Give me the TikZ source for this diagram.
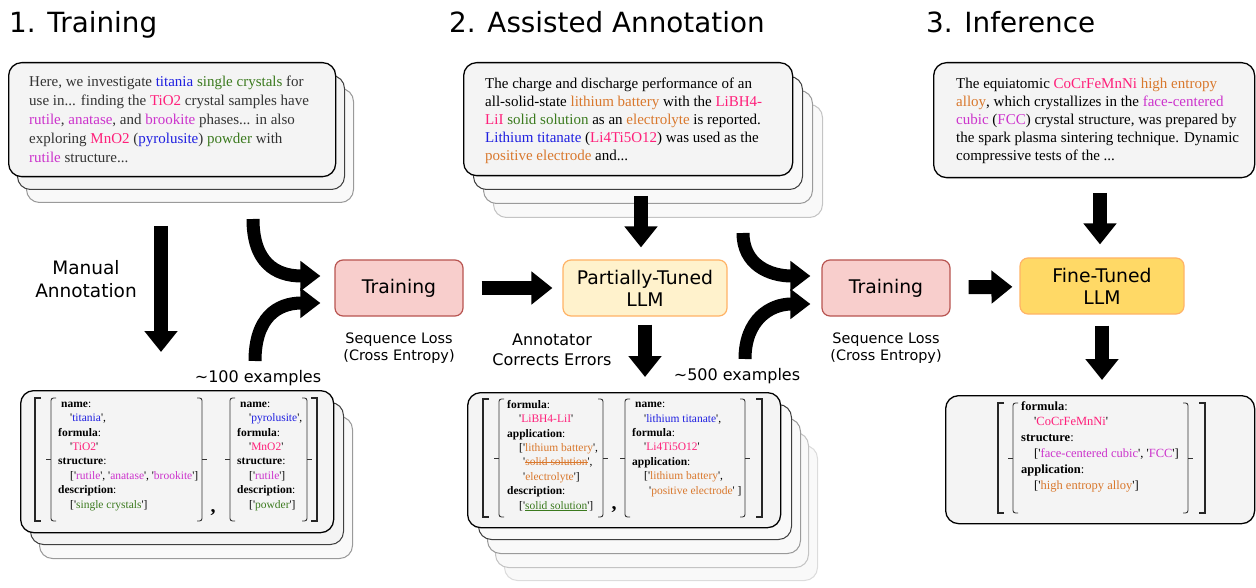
\documentclass[tikz,border=0pt]{standalone}
\usepackage{fontspec}
\setmainfont{DejaVu Sans}
\newfontfamily\srcfont{Liberation Serif}
\newfontfamily\jsonfont[Ligatures=TeXOff]{Liberation Serif}
\usetikzlibrary{arrows.meta, positioning}

\definecolor{cname}{HTML}{1F1FE0}
\definecolor{cdesc}{HTML}{3B7A1E}
\definecolor{cform}{HTML}{FF1F7A}
\definecolor{cphase}{HTML}{CC33CC}
\definecolor{capp}{HTML}{D9782D}
\definecolor{cardgray}{HTML}{F4F4F4}
\definecolor{backgray}{HTML}{F9F9F9}
\definecolor{lay2}{HTML}{404040}
\definecolor{lay3}{HTML}{9A9A9A}
\definecolor{lay4}{HTML}{C4C4C4}
\definecolor{lay5}{HTML}{DCDCDC}
\definecolor{trainfill}{HTML}{F8CECC}
\definecolor{traindraw}{HTML}{B85450}
\definecolor{ptfill}{HTML}{FFF2CC}
\definecolor{ftfill}{HTML}{FFD966}
\definecolor{llmdraw}{HTML}{FFB366}

\newcommand{\tname}[1]{\textcolor{cname}{#1}}
\newcommand{\tdesc}[1]{\textcolor{cdesc}{#1}}
\newcommand{\tform}[1]{\textcolor{cform}{#1}}
\newcommand{\tphase}[1]{\textcolor{cphase}{#1}}
\newcommand{\tappl}[1]{\textcolor{capp}{#1}}
\newsavebox\wordbox
\newcommand{\strk}[1]{\sbox\wordbox{#1}\rlap{\usebox\wordbox}\rule[0.27em]{\wd\wordbox}{0.07em}}
\newcommand{\undl}[1]{\sbox\wordbox{#1}\rlap{\usebox\wordbox}\rule[-0.17em]{\wd\wordbox}{0.06em}}

\newcommand{\jsqr}[4]{%
  \draw[line width=1.5pt, black!85] ({#1+6},#3) -- (#1,#3) -- (#1,#4) -- ({#1+6},#4);
  \draw[line width=1.5pt, black!85] ({#2-6},#3) -- (#2,#3) -- (#2,#4) -- ({#2-6},#4);}
\newcommand{\jcurl}[4]{%
  \draw[line width=0.9pt, black!80, rounded corners=2.5pt] ({#1+5},#3) -- (#1,#3) -- (#1,#4) -- ({#1+5},#4);
  \draw[line width=0.9pt, black!80] (#1,{(#3+#4)/2}) -- ({#1-5},{(#3+#4)/2});
  \draw[line width=0.9pt, black!80, rounded corners=2.5pt] ({#2-5},#3) -- (#2,#3) -- (#2,#4) -- ({#2-5},#4);
  \draw[line width=0.9pt, black!80] (#2,{(#3+#4)/2}) -- ({#2+5},{(#3+#4)/2});}

\begin{document}
\begin{tikzpicture}[x=1pt, y=-1pt,
  card/.style={draw=black, fill=cardgray, rounded corners=13pt, line width=1.3pt, inner sep=0pt, anchor=north west},
  back/.style={card, fill=backgray, line width=1pt},
  src/.style={font=\srcfont\fontsize{15}{18.2}\selectfont, align=left, inner sep=0pt, anchor=base west},
  json/.style={font=\jsonfont\fontsize{11.5}{14.4}\selectfont, align=left, inner sep=0pt, anchor=base west},
  jcomma/.style={font=\jsonfont\bfseries\fontsize{20}{20}\selectfont, inner sep=0pt, anchor=base},
  head/.style={font=\fontsize{27.8}{30}\selectfont, inner sep=0pt, anchor=base west},
  lbl/.style={font=\fontsize{14.4}{17.5}\selectfont, align=center, inner sep=0pt},
  lblmid/.style={font=\fontsize{16}{20}\selectfont, align=center, inner sep=0pt},
  stage/.style={rounded corners=8pt, line width=1.2pt, font=\fontsize{18.8}{22}\selectfont, align=center, minimum height=56pt},
  trainbox/.style={stage, draw=traindraw, fill=trainfill, minimum width=128pt},
  llmbox/.style={stage, draw=llmdraw, minimum width=164pt},
  fat/.style={line width=14pt, -{Triangle[width=32pt,length=21pt]}},
  fatc/.style={line width=13pt, -{Triangle[width=29pt,length=20pt]}}]

\useasboundingbox (0,0) rectangle (1256,588);

\node[head] (h1) at (9,33) {1. Training};
\node[head] (h2) at (449,33) {2. Assisted Annotation};
\node[head] (h3) at (926,33) {3. Inference};

\node[back, draw=lay3, minimum width=327pt, minimum height=114pt] (top1s2) at (26,88) {};
\node[back, draw=lay2, fill=cardgray, minimum width=327pt, minimum height=114pt] (top1s1) at (17,75) {};
\node[card, minimum width=327pt, minimum height=114pt] (top1) at (8,62) {};
\node[src, text=black!80, font=\srcfont\fontsize{15}{19}\selectfont] (top1txt) at (29,163) {Here, we investigate \tname{titania} \tdesc{single crystals} for\\
use in... finding the \tform{TiO2} crystal samples have\\
\tphase{rutile}, \tphase{anatase}, and \tphase{brookite} phases... in also\\
exploring \tform{MnO2} (\tname{pyrolusite}) \tdesc{powder} with\\
\tphase{rutile} structure...};

\foreach \dx/\dy/\c in {30/42/lay4,20/28/lay3,10/14/lay2}
  \node[back, draw=\c, minimum width=329pt, minimum height=113pt] (top2s\dx) at (463+\dx,62+\dy) {};
\node[card, minimum width=329pt, minimum height=113pt] (top2) at (463,62) {};
\node[src] (top2txt) at (485,161) {The charge and discharge performance of an\\
all-solid-state \tappl{lithium battery} with the \tform{LiBH4-}\\
\tform{LiI} \tdesc{solid solution} as an \tappl{electrolyte} is reported.\\
\tname{Lithium titanate} (\tform{Li4Ti5O12}) was used as the\\
\tappl{positive electrode} and...};

\node[card, minimum width=321pt, minimum height=115pt] (top3) at (933,62) {};
\node[src] (top3txt) at (956,161) {The equiatomic \tform{CoCrFeMnNi} \tappl{high entropy}\\
\tappl{alloy}, which crystallizes in the \tphase{face-centered}\\
\tphase{cubic} (\tphase{FCC}) crystal structure, was prepared by\\
the spark plasma sintering technique. Dynamic\\
compressive tests of the ...};

\node[trainbox] (train1) at (399,288) {Training};
\node[llmbox, fill=ptfill] (pt) at (645,288) {Partially-Tuned\\LLM};
\node[trainbox] (train2) at (886,288) {Training};
\node[llmbox, fill=ftfill] (ft) at (1102,286) {Fine-Tuned\\LLM};

\node[lbl, below=16pt of train1] (loss1) {Sequence Loss\\(Cross Entropy)};
\node[lbl, below=16pt of train2] (loss2) {Sequence Loss\\(Cross Entropy)};
\node[font=\fontsize{18.5}{23}\selectfont, align=center, inner sep=0pt] (manual) at (86,279) {Manual\\Annotation};
\node[lblmid] (fix) at (552,350) {Annotator\\Corrects Errors};
\node[lblmid] (ex100) at (258,378) {\textasciitilde100 examples};
\node[lblmid] (ex500) at (737,376) {\textasciitilde500 examples};

\node[back, draw=lay3, minimum width=313pt, minimum height=142pt] (bot1s2) at (39,416) {};
\node[back, draw=lay2, fill=cardgray, minimum width=313pt, minimum height=142pt] (bot1s1) at (30,402) {};
\node[card, minimum width=313pt, minimum height=142pt] (bot1) at (20,390) {};
\jsqr{35}{317}{398}{521}
\jcurl{51}{202}{398}{521}
\jcurl{230}{307}{398}{521}
\node[json] (bot1a) at (58,508) {\hspace*{3pt}\textbf{name}:\\
\hspace*{12pt}'\tname{titania}',\\
\textbf{formula}:\\
\hspace*{12pt}'\tform{TiO2}'\\
\textbf{structure}:\\
\hspace*{12pt}['\tphase{rutile}', '\tphase{anatase}', '\tphase{brookite}']\\
\textbf{description}:\\
\hspace*{12pt}['\tdesc{single crystals}']};
\node[jcomma] (bot1cm) at (213,512) {,};
\node[json] (bot1b) at (237,508) {\hspace*{3pt}\textbf{name}:\\
\hspace*{12pt}'\tname{pyrolusite}',\\
\textbf{formula}:\\
\hspace*{12pt}'\tform{MnO2}'\\
\textbf{structure}:\\
\hspace*{12pt}['\tphase{rutile}']\\
\textbf{description}:\\
\hspace*{12pt}['\tdesc{powder}']};

\foreach \dx/\dy/\c in {37/53/lay5,28/40/lay4,20/26/lay3,11/12/lay2}
  \node[back, draw=\c, minimum width=313pt, minimum height=135pt] (bot2s\dx) at (467+\dx,392+\dy) {};
\node[card, minimum width=313pt, minimum height=135pt] (bot2) at (467,392) {};
\jsqr{483}{762}{399}{517}
\jcurl{499}{603}{399}{517}
\jcurl{625}{745}{399}{517}
\node[json] (bot2a) at (507,509) {\textbf{formula}:\\
\hspace*{12pt}'\tform{LiBH4-LiI}'\\
\textbf{application}:\\
\hspace*{12pt}['\tappl{lithium battery}',\\
\hspace*{16pt}'\tappl{\strk{solid solution}}',\\
\hspace*{16pt}'\tappl{electrolyte}']\\
\textbf{description}:\\
\hspace*{12pt}['\tdesc{\undl{solid solution}}']};
\node[jcomma] (bot2cm) at (614,509) {,};
\node[json] (bot2b) at (632,494) {\hspace*{3pt}\textbf{name}:\\
\hspace*{12pt}'\tname{lithium titanate}',\\
\textbf{formula}:\\
\hspace*{12pt}'\tform{Li4Ti5O12}'\\
\textbf{application}:\\
\hspace*{12pt}['\tappl{lithium battery}',\\
\hspace*{17pt}'\tappl{positive electrode}' ]};

\node[card, minimum width=309pt, minimum height=128pt] (bot3) at (945,395) {};
\jsqr{998}{1205}{403}{513}
\jcurl{1013}{1188}{403}{513}
\node[json, font=\jsonfont\fontsize{12.5}{15.8}\selectfont] (bot3a) at (1021,489) {\textbf{formula}:\\
\hspace*{13pt}'\tform{CoCrFeMnNi}'\\
\textbf{structure}:\\
\hspace*{13pt}['\tphase{face-centered cubic}', '\tphase{FCC}']\\
\textbf{application}:\\
\hspace*{13pt}['\tappl{high entropy alloy}']};

\coordinate (m1a) at (161,226);
\coordinate (m1b) at (161,352);
\coordinate (c1s) at (253,219);
\coordinate (c1t) at (255,361);
\coordinate (d2a) at (641,196);
\coordinate (c2s) at (743,233);
\coordinate (c2t) at (745,359);
\coordinate (d3a) at (1100,193);

\draw[fat] (m1a) -- (m1b);
\draw[fatc, shorten >=14pt] (c1s) .. controls (253,262) and (275,276) .. ([yshift=12pt]train1.west);
\draw[fatc, shorten >=14pt] (c1t) .. controls (255,318) and (277,303) .. ([yshift=-15pt]train1.west);
\draw[fat, shorten <=18pt, shorten >=10pt] (train1) -- (pt);
\draw[fat, shorten >=12pt] (d2a) -- (d2a |- pt.north);
\draw[fat, shorten <=8pt, shorten >=15pt] (pt.south) -- (pt.south |- bot2.north);
\draw[fatc, shorten >=11pt] (c2s) .. controls (743,265) and (770,276) .. ([yshift=12pt]train2.west);
\draw[fatc, shorten >=11pt] (c2t) .. controls (745,320) and (770,304) .. ([yshift=-16pt]train2.west);
\draw[fat, shorten <=18pt, shorten >=7pt] (train2) -- (ft);
\draw[fat, shorten >=13pt] (d3a) -- (d3a |- ft.north);
\draw[fat, shorten <=11pt, shorten >=15pt] (ft.south) -- (ft.south |- bot3.north);
\end{tikzpicture}
\end{document}
